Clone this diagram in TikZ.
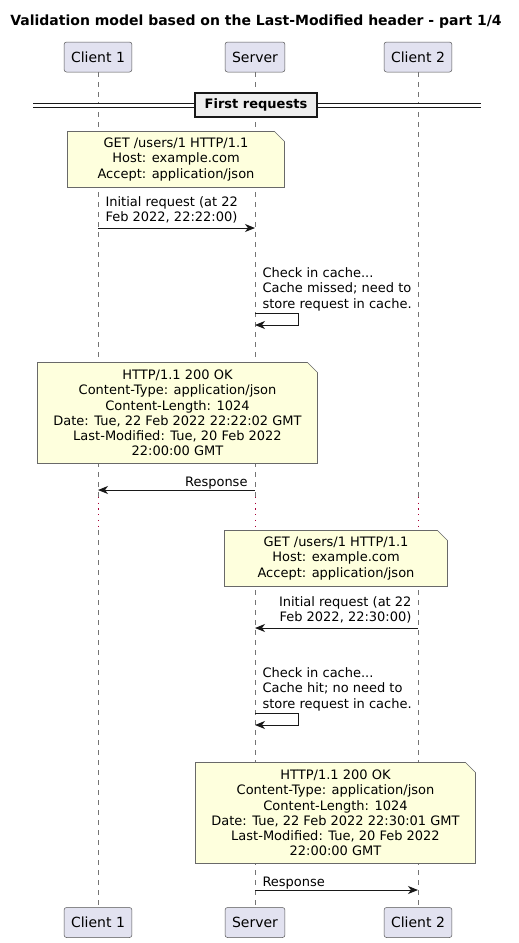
\documentclass[tikz,border=0pt]{standalone}
\usepackage{fontspec}
\setmainfont{DejaVu Sans}
\usepackage{xcolor}
\usepackage{tikz}
\usetikzlibrary{arrows.meta}

\definecolor{partfill}{HTML}{E2E2F0}
\definecolor{notefill}{HTML}{FEFFDD}
\definecolor{darkline}{HTML}{181818}
\definecolor{delayred}{HTML}{A80036}
\definecolor{divfill}{HTML}{EEEEEE}

\begin{document}
\begin{tikzpicture}[x=1pt, y=-1pt, line width=1pt,
    >={Stealth[length=10pt, width=8pt, inset=3pt]},
    title/.style={font=\fontsize{14}{16}\selectfont\bfseries},
    part/.style={draw=darkline!75, line width=0.5pt, fill=partfill, rounded corners=2.5pt,
      minimum height=30pt, inner xsep=7pt, font=\fontsize{14}{16}\selectfont},
    life/.style={draw=darkline!60, line width=0.6pt, dash pattern=on 5pt off 5pt},
    delay/.style={draw=delayred, line width=1pt, dash pattern=on 1.2pt off 4.5pt},
    note/.style={fill=notefill, align=center, inner sep=0pt,
      font=\fontsize{13}{15.2}\selectfont},
    noteline/.style={draw=darkline!65, line width=0.6pt},
    lbl/.style={inner sep=0pt, font=\fontsize{13}{15.5}\selectfont},
    msg/.style={draw=darkline, line width=1pt},
    divline/.style={draw=darkline, line width=1.1pt, double=white, double distance=2.4pt},
    divider/.style={draw=darkline, line width=1.6pt, fill=divfill, minimum width=122pt,
      minimum height=24pt, font=\fontsize{13}{15}\selectfont\bfseries}]

  \useasboundingbox (0,0) rectangle (519,943);

  \node[title] (ttl) at (256,22) {Validation model based on the Last-Modified header - part 1/4};

  % participants
  \node[part] (c1-top) at (98,57) {Client 1};
  \node[part] (srv-top) at (255,57) {Server};
  \node[part] (c2-top) at (418,57) {Client 2};
  \node[part] (c1-bot) at (98,922.5) {Client 1};
  \node[part] (srv-bot) at (255,922.5) {Server};
  \node[part] (c2-bot) at (418,922.5) {Client 2};

  % lifelines, with the delay
  \coordinate (dl1) at (0,497);
  \coordinate (dl2) at (0,530);
  \foreach \p in {c1,srv,c2}{
    \draw[life] (\p-top.south) -- (\p-top.south |- dl1);
    \draw[delay] (\p-top.south |- dl1) -- (\p-top.south |- dl2);
    \draw[life] (\p-top.south |- dl2) -- (\p-bot.north);
  }

  % divider
  \coordinate (divL) at (33,105.5);
  \coordinate (divR) at (481,105.5);
  \draw[divline] (divL) -- (divR);
  \node[divider] (sec1) at (256,105) {First requests};

  % notes
  \node[note, minimum width=216pt, minimum height=55pt] (n1) at (176,159.5)
    {GET /users/1 HTTP/1.1\\Host: example.com\\Accept: application/json};
  \node[note, minimum width=279pt, minimum height=100pt] (n2) at (177.5,413)
    {HTTP/1.1 200 OK\\Content-Type: application/json\\Content-Length: 1024\\
     Date: Tue, 22 Feb 2022 22:22:02 GMT\\Last-Modified: Tue, 20 Feb 2022\\22:00:00 GMT};
  \node[note, minimum width=222pt, minimum height=55pt] (n3) at (336,558.5)
    {GET /users/1 HTTP/1.1\\Host: example.com\\Accept: application/json};
  \node[note, minimum width=279pt, minimum height=100pt] (n4) at (335.5,813)
    {HTTP/1.1 200 OK\\Content-Type: application/json\\Content-Length: 1024\\
     Date: Tue, 22 Feb 2022 22:30:01 GMT\\Last-Modified: Tue, 20 Feb 2022\\22:00:00 GMT};
  \foreach \n in {n1,n2,n3,n4}{
    \fill[white] ([xshift=-10pt]\n.north east) -- (\n.north east) -- ([yshift=-10pt]\n.north east) -- cycle;
    \draw[noteline] (\n.north west) -- ([xshift=-10pt]\n.north east) -- ([yshift=-10pt]\n.north east)
      -- (\n.south east) -- (\n.south west) -- cycle;
  }

  % first request
  \coordinate (r1a) at (c1-top |- 0,228);
  \coordinate (r1b) at (srv-top |- 0,228);
  \draw[msg, ->] (r1a) -- (r1b);
  \node[lbl, anchor=south west, align=left] (l1) at (105,224) {Initial request (at 22\\Feb 2022, 22:22:00)};

  \coordinate (s1a) at (srv-top |- 0,313);
  \coordinate (s1b) at (srv-top |- 0,325);
  \draw[msg, ->] (s1a) -- ++(43,0) |- (s1b);
  \node[lbl, anchor=south west, align=left] (l2) at (262,311.5) {Check in cache...\\Cache missed; need to\\store request in cache.};

  \coordinate (p1a) at (srv-top |- 0,490);
  \coordinate (p1b) at (c1-top |- 0,490);
  \draw[msg, ->] (p1a) -- (p1b);
  \node[lbl, anchor=south east] (l3) at (248,489.5) {Response};

  % second request
  \coordinate (r2a) at (c2-top |- 0,628);
  \coordinate (r2b) at (srv-top |- 0,628);
  \draw[msg, ->] (r2a) -- (r2b);
  \node[lbl, anchor=south east, align=right] (l4) at (412,624) {Initial request (at 22\\Feb 2022, 22:30:00)};

  \coordinate (s2a) at (srv-top |- 0,713);
  \coordinate (s2b) at (srv-top |- 0,725);
  \draw[msg, ->] (s2a) -- ++(43,0) |- (s2b);
  \node[lbl, anchor=south west, align=left] (l5) at (262,711.5) {Check in cache...\\Cache hit; no need to\\store request in cache.};

  \coordinate (p2a) at (srv-top |- 0,890);
  \coordinate (p2b) at (c2-top |- 0,890);
  \draw[msg, ->] (p2a) -- (p2b);
  \node[lbl, anchor=south west] (l6) at (262,889.5) {Response};
\end{tikzpicture}
\end{document}
